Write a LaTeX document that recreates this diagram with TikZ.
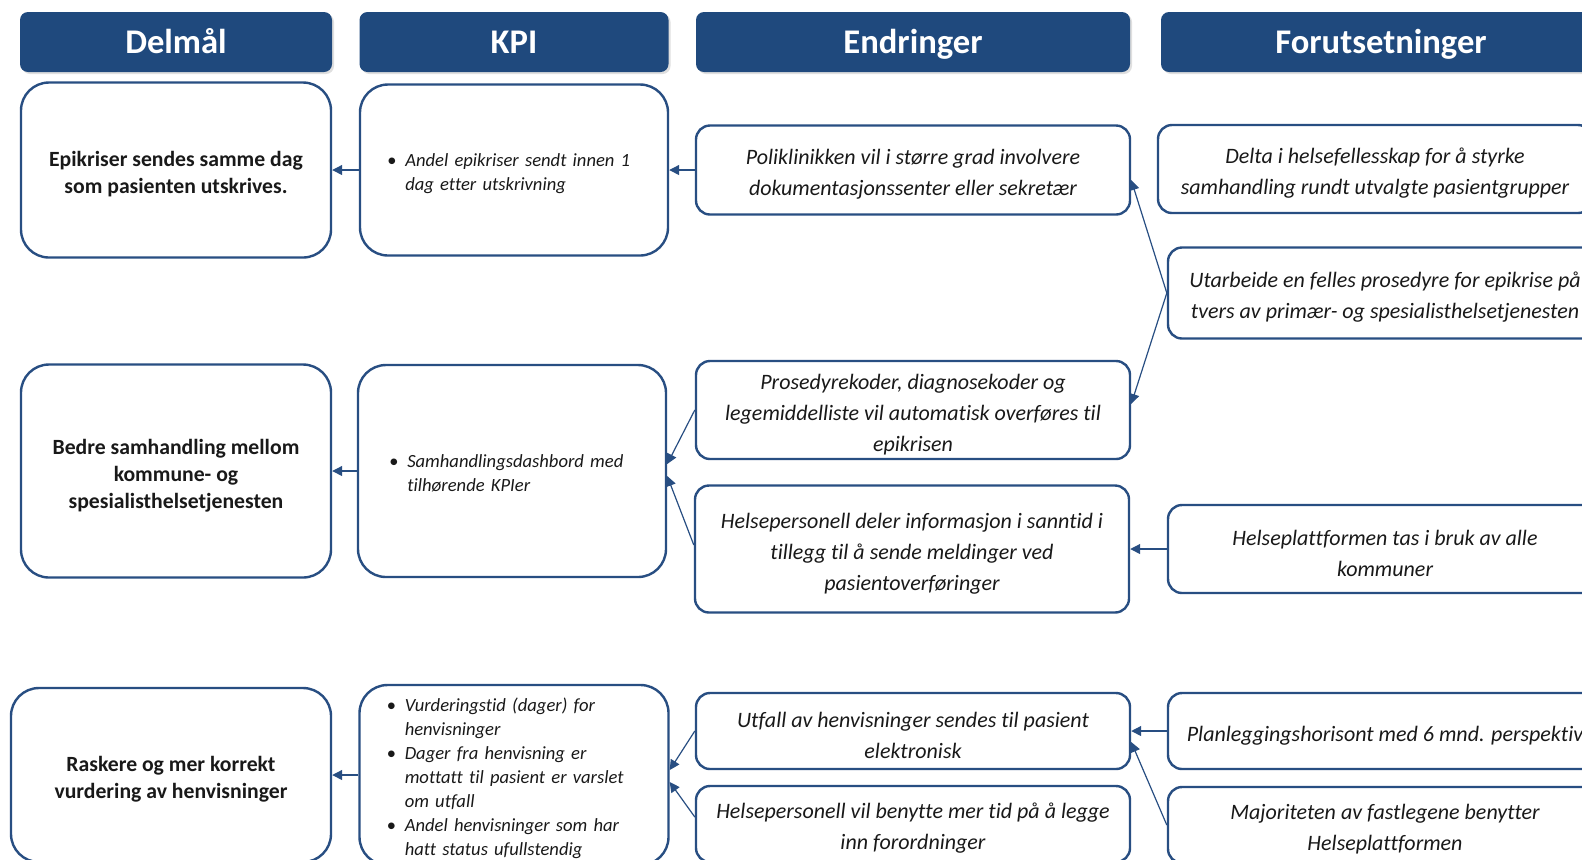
\documentclass[tikz,border=0pt]{standalone}
\usepackage{fontspec}
\setmainfont{Carlito}[Ligatures=NoCommon]
\usetikzlibrary{arrows.meta,shadows}
\definecolor{hdblue}{RGB}{31,73,125}
\definecolor{bxblue}{RGB}{40,78,130}
\definecolor{txtgray}{RGB}{25,25,25}
\newcommand{\kpilist}[1]{\begin{tabular}{@{}l@{\hspace{4.5pt}}l@{}}\rule{0pt}{12.4pt}#1\end{tabular}}

\begin{document}
\begin{tikzpicture}[x=0.5pt,y=-0.5pt,
    hd/.style={fill=hdblue,rounded corners=4pt,text=white,minimum height=30pt,
      text height=14pt,text depth=2.9pt,font=\fontsize{17.3}{20}\selectfont\bfseries,
      drop shadow={opacity=0.25,shadow xshift=1pt,shadow yshift=-1pt}},
    goal/.style={draw=bxblue,line width=1.2pt,fill=white,rounded corners=14pt,align=flush center,
      text width=145pt,inner ysep=1pt,execute at begin node={\rule{0pt}{12pt}},
      text=txtgray,font=\fontsize{10.85}{13.5}\selectfont\bfseries},
    kpi/.style={draw=bxblue,line width=1.2pt,fill=white,rounded corners=14pt,align=left,
      inner ysep=1pt,text=txtgray,font=\fontsize{9.3}{12}\selectfont\itshape},
    chg/.style={draw=bxblue,line width=1.2pt,fill=white,rounded corners=7pt,align=flush center,
      text width=207pt,inner ysep=1pt,execute at begin node={\rule{0pt}{12pt}},
      minimum width=217pt,text=txtgray,font=\fontsize{11}{15.5}\selectfont\itshape}]
  \useasboundingbox (0,0) rectangle (1582,859);
  \fill[white] (0,0) rectangle (1582,859);
  \clip (0,0) rectangle (1582,859);

  \begin{scope}[every node/.style={hd}]
    \node (H1)[minimum width=156pt] at (176,42) {Delmål};
    \node (H2)[minimum width=154.5pt] at (514,42) {KPI};
    \node (H3)[minimum width=217pt] at (913,42) {Endringer};
    \node (H4)[minimum width=220pt] at (1381,42) {Forutsetninger};
  \end{scope}

  \begin{scope}[every node/.style={goal,minimum width=155pt}]
    \node (D1)[minimum height=87.5pt] at (176,170) {Epikriser sendes samme dag\\som pasienten utskrives.};
    \node (D2)[minimum height=106.5pt] at (176,471) {Bedre samhandling mellom\\kommune- og\\spesialisthelsetjenesten};
    \node (D3)[minimum width=160pt,minimum height=87pt] at (171,775) {Raskere og mer korrekt\\vurdering av henvisninger};
  \end{scope}

  \begin{scope}[every node/.style={kpi}]
    \node (K1)[inner xsep=13.5pt,text width=127pt,minimum height=85.5pt] at (514,170)
      {\kpilist{\textbullet & Andel epikriser sendt innen 1\\ & dag etter utskrivning}};
    \node (K2)[inner xsep=15.5pt,text width=123pt,minimum height=106pt] at (512,471)
      {\kpilist{\textbullet & Samhandlingsdashbord med\\ & tilhørende KPIer}};
    \node (K3)[inner xsep=13.5pt,text width=127.5pt,minimum height=89pt] at (514,775)
      {\kpilist{\textbullet & Vurderingstid (dager) for\\ & henvisninger\\
        \textbullet & Dager fra henvisning er\\ & mottatt til pasient er varslet\\ & om utfall\\
        \textbullet & Andel henvisninger som har\\ & hatt status ufullstendig}};
  \end{scope}

  \begin{scope}[every node/.style={chg}]
    \node (E1)[minimum height=44.5pt] at (913,170) {Poliklinikken vil i større grad involvere\\dokumentasjonssenter eller sekretær};
    \node (E2)[minimum height=49pt] at (913,410) {Prosedyrekoder, diagnosekoder og\\legemiddelliste vil automatisk overføres til\\epikrisen};
    \node (E3)[minimum height=63.5pt] at (912,549) {Helsepersonell deler informasjon i sanntid i\\tillegg til å sende meldinger ved\\pasientoverføringer};
    \node (E4)[minimum height=38pt] at (913,731) {Utfall av henvisninger sendes til pasient\\elektronisk};
    \node (E5)[minimum height=38pt] at (913,824) {Helsepersonell vil benytte mer tid på å legge\\inn forordninger};
    \node (F1)[minimum height=44pt] at (1375,169) {Delta i helsefellesskap for å styrke\\samhandling rundt utvalgte pasientgrupper};
    \node (F2)[minimum height=45.5pt] at (1385,293) {Utarbeide en felles prosedyre for epikrise på\\tvers av primær- og spesialisthelsetjenesten};
    \node (F3)[minimum height=44pt] at (1385,549) {Helseplattformen tas i bruk av alle\\kommuner};
    \node (F4)[minimum height=38pt] at (1385,731) {Planleggingshorisont med 6 mnd. perspektiv};
    \node (F5)[minimum height=38pt] at (1385,825) {Majoriteten av fastlegene benytter\\Helseplattformen};
  \end{scope}

  \begin{scope}[every edge/.style={draw=bxblue,line width=0.6pt,-{Triangle[length=5pt,width=5pt]}}]
    \path (K1) edge (D1);
    \path (E1) edge (K1);
    \path (F2.west) edge ([yshift=-5pt]E1.east);
    \path (F2.west) edge ([yshift=3pt]E2.east);
    \path (K2) edge (D2);
    \path (E2.west) edge ([yshift=3.5pt]K2.east);
    \path ([yshift=2pt]E3.west) edge ([yshift=-2.5pt]K2.east);
    \path (F3) edge (E3);
    \path (K3) edge (D3);
    \path (E4.west) edge ([yshift=2.5pt]K3.east);
    \path ([yshift=3.5pt]E5.west) edge ([yshift=-3.5pt]K3.east);
    \path (F4) edge (E4);
    \path (F5.west) edge ([yshift=-5.5pt]E4.east);
  \end{scope}
\end{tikzpicture}
\end{document}
